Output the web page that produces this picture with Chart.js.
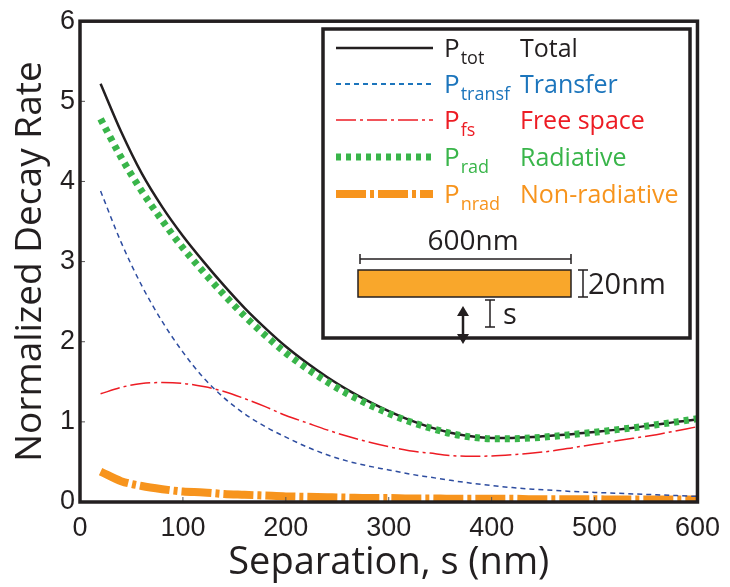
<!DOCTYPE html>
<html>
<head>
<meta charset="utf-8">
<script src="https://cdn.jsdelivr.net/npm/chart.js@4/dist/chart.umd.min.js"></script>
<style>
html,body{margin:0;padding:0;background:#fff}
</style>
</head>
<body>
<canvas id="chartDecayHTML" width="730" height="587"></canvas>
<script>
// separation s (nm)
const separation=[20,40,60,80,100,120,140,160,180,200,220,240,260,280,300,320,340,360,380,400,420,440,460,480,500,520,540,560,580,600]
const totalRate=[5.22,4.62,4.10,3.68,3.32,3.00,2.70,2.42,2.17,1.94,1.74,1.56,1.40,1.26,1.135,1.025,0.935,0.865,0.82,0.80,0.80,0.81,0.83,0.85,0.875,0.90,0.93,0.965,1.00,1.03]
const transferRate=[3.88,3.24,2.70,2.25,1.87,1.55,1.30,1.10,0.94,0.81,0.69,0.59,0.51,0.45,0.40,0.35,0.31,0.27,0.235,0.205,0.18,0.16,0.145,0.13,0.12,0.11,0.10,0.09,0.08,0.07]
const freeSpaceRate=[1.35,1.43,1.48,1.49,1.48,1.44,1.38,1.29,1.19,1.08,0.99,0.90,0.82,0.75,0.69,0.64,0.61,0.58,0.57,0.575,0.59,0.61,0.64,0.68,0.72,0.76,0.80,0.84,0.89,0.94]
const radiativeRate=[4.78,4.30,3.88,3.51,3.17,2.87,2.585,2.32,2.08,1.86,1.67,1.50,1.35,1.22,1.105,1.005,0.925,0.855,0.81,0.79,0.79,0.80,0.82,0.845,0.87,0.90,0.93,0.965,1.00,1.04]
const nonRadRate=[0.38,0.26,0.20,0.16,0.13,0.12,0.10,0.09,0.08,0.07,0.065,0.06,0.055,0.05,0.05,0.045,0.045,0.04,0.04,0.04,0.04,0.035,0.035,0.035,0.035,0.03,0.03,0.03,0.03,0.03]
const xTicks=[0,100,200,300,400,500,600]
const yTicks=[0,1,2,3,4,5,6]
const legendSubs=['tot','transf','fs','rad','nrad']
const legendNames=['Total','Transfer','Free space','Radiative','Non-radiative']
const legendColours=['#231f20','#1c75bc','#ed1c24','#39b54a','#f7941d']

function pts(arr){return separation.map((s,i)=>({x:s,y:arr[i]}))}

const ink='#231f20'

const framePlugin={id:'frame',afterDatasetsDraw(chart){
 const ctx=chart.ctx, a=chart.chartArea
 const xs=chart.scales.x, ys=chart.scales.y
 ctx.save()
 ctx.strokeStyle='#555';ctx.lineWidth=1
 xTicks.slice(1,-1).forEach(t=>{const px=xs.getPixelForValue(t);ctx.beginPath();ctx.moveTo(px,a.bottom);ctx.lineTo(px,a.bottom-5);ctx.stroke()})
 yTicks.slice(1,-1).forEach(t=>{const py=ys.getPixelForValue(t);ctx.beginPath();ctx.moveTo(a.left,py);ctx.lineTo(a.left+5,py);ctx.stroke()})
 ctx.strokeStyle=ink;ctx.lineWidth=3.5
 ctx.strokeRect(a.left,a.top,a.right-a.left,a.bottom-a.top)
 ctx.restore()
}}

const legendPlugin={id:'insetLegend',afterDraw(chart){
 const ctx=chart.ctx
 ctx.save()
 ctx.fillStyle='#fff';ctx.fillRect(323,29,367,309)
 ctx.strokeStyle=ink;ctx.lineWidth=3.5;ctx.strokeRect(323,29,367,309)
 const base=[57,93,129,166,203]
 const ds=chart.data.datasets
 ds.forEach((d,i)=>{
  const y=base[i]-9
  ctx.beginPath();ctx.strokeStyle=i==1?'#1c75bc':d.borderColor;ctx.lineWidth=i==1?2:d.borderWidth
  ctx.setLineDash(d.borderDash||[]);ctx.moveTo(336,y);ctx.lineTo(433,y);ctx.stroke()
  ctx.setLineDash([])
  ctx.fillStyle=legendColours[i];ctx.textBaseline='alphabetic';ctx.textAlign='left'
  ctx.font='26px "Open Sans"';ctx.fillText('P',444,base[i])
  const w=ctx.measureText('P').width
  ctx.font='18px "Open Sans"';ctx.fillText(legendSubs[i],444+w+1,base[i]+7)
  ctx.font='25px "Open Sans"';ctx.fillText(legendNames[i],520,base[i])
 })
 // little sketch of the rod
 ctx.strokeStyle=ink;ctx.lineWidth=1.5
 ctx.beginPath();ctx.moveTo(360,259);ctx.lineTo(571,259);ctx.moveTo(360,254);ctx.lineTo(360,264);ctx.moveTo(571,254);ctx.lineTo(571,264);ctx.stroke()
 ctx.fillStyle=ink;ctx.textAlign='center';ctx.font='28px "Open Sans"';ctx.fillText('600nm',473,250)
 ctx.fillStyle='#f9a72b';ctx.fillRect(358,270,213,27);ctx.strokeRect(358,270,213,27)
 ctx.beginPath();ctx.moveTo(583,270);ctx.lineTo(583,297);ctx.moveTo(578,270);ctx.lineTo(588,270);ctx.moveTo(578,297);ctx.lineTo(588,297);ctx.stroke()
 ctx.fillStyle=ink;ctx.textAlign='left';ctx.font='29px "Open Sans"';ctx.fillText('20nm',588,294)
 ctx.beginPath();ctx.moveTo(490,300);ctx.lineTo(490,327);ctx.moveTo(485,300);ctx.lineTo(495,300);ctx.moveTo(485,327);ctx.lineTo(495,327);ctx.stroke()
 ctx.fillText('s',503,324)
 ctx.lineWidth=2.5;ctx.beginPath();ctx.moveTo(463,314);ctx.lineTo(463,337);ctx.stroke()
 ctx.beginPath();ctx.moveTo(463,306);ctx.lineTo(457,316);ctx.lineTo(469,316);ctx.closePath();ctx.fill()
 ctx.beginPath();ctx.moveTo(463,344);ctx.lineTo(457,334);ctx.lineTo(469,334);ctx.closePath();ctx.fill()
 ctx.restore()
}}

const chartDecay=new Chart(document.getElementById('chartDecayHTML'),{
 type:'line',
 data:{datasets:[
  {label:'Total',data:pts(totalRate),borderColor:'#231f20',borderWidth:2.5,order:2},
  {label:'Transfer',data:pts(transferRate),borderColor:'#2e4da0',borderWidth:1.5,borderDash:[5,4],order:1},
  {label:'Free space',data:pts(freeSpaceRate),borderColor:'#ed1c24',borderWidth:1.5,borderDash:[20,4,3,4],order:1},
  {label:'Radiative',data:pts(radiativeRate),borderColor:'#39b54a',borderWidth:7,borderDash:[5,5],order:1},
  {label:'Non-radiative',data:pts(nonRadRate),borderColor:'#f7941d',borderWidth:8,borderDash:[30,4,4,4],order:3}
 ]},
 options:{
  responsive:false,animation:false,
  layout:{padding:{top:13,right:27,left:0,bottom:0}},
  elements:{point:{radius:0},line:{cubicInterpolationMode:'monotone',fill:false}},
  plugins:{legend:{display:false},tooltip:{enabled:false}},
  scales:{
   x:{type:'linear',min:0,max:600,
    afterFit:s=>{s.height=85},
    afterBuildTicks:s=>{s.ticks=xTicks.map(v=>({value:v}))},
    grid:{display:false,drawTicks:false},border:{display:false},
    ticks:{padding:10,color:ink,font:{family:'"Liberation Sans"',size:27}},
    title:{display:true,text:'Separation, s (nm)',color:ink,font:{family:'"Open Sans"',size:38},padding:{top:0,bottom:1}}},
   y:{min:0,max:6,
    afterFit:s=>{s.width=80},
    afterBuildTicks:s=>{s.ticks=yTicks.map(v=>({value:v}))},
    grid:{display:false,drawTicks:false},border:{display:false},
    ticks:{padding:5,color:ink,font:{family:'"Liberation Sans"',size:27}},
    title:{display:true,text:'Normalized Decay Rate',color:ink,font:{family:'"Open Sans"',size:37},padding:{top:8,bottom:0}}}
  }
 },
 plugins:[framePlugin,legendPlugin]
})
</script>
</body>
</html>
